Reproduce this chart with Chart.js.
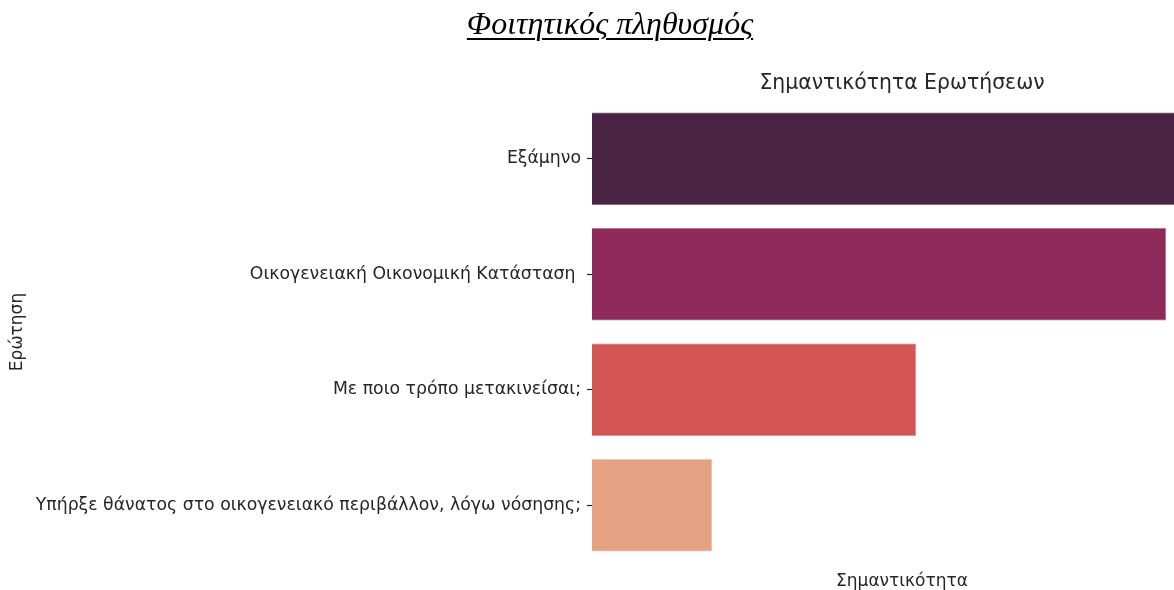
<!DOCTYPE html>
<html>
<head>
<meta charset="utf-8">
<script src="https://cdn.jsdelivr.net/npm/chart.js@4/dist/chart.umd.min.js"></script>
<style>
  html, body { margin: 0; padding: 0; background: #fff; overflow: hidden; }
  #wrap { position: relative; width: 1220px; height: 590px; }
  #heading {
    position: absolute; left: 0; top: 5px; width: 1220px; text-align: center;
    font-family: "Liberation Serif", "Times New Roman", serif; font-style: italic;
    font-size: 32px; color: #000; text-decoration: underline; text-underline-offset: 4px;
    text-decoration-thickness: 2px; z-index: 2;
  }
  canvas { position: absolute; left: 0; top: 0; }
</style>
</head>
<body>
<div id="wrap">
  <div id="heading">Φοιτητικός πληθυσμός</div>
  <canvas id="c" width="1220" height="590"></canvas>
</div>
<script>
// Questions and their importance scores
const questions = [
  "Εξάμηνο",
  "Οικογενειακή Οικονομική Κατάσταση ",
  "Με ποιο τρόπο μετακινείσαι;",
  "Υπήρξε θάνατος στο οικογενειακό περιβάλλον, λόγω νόσησης;"
];
const importance = [0.295, 0.287, 0.162, 0.060];
const barColors = ["#4a2445", "#8f2b5a", "#d35554", "#e4a282"];
const barEdges = ["#7a5a76", "#b06a8b", "#e08a89", "#f0c4ae"];

const textColor = "#262626";
const font = "'DejaVu Sans', sans-serif";

new Chart(document.getElementById("c"), {
  type: "bar",
  data: {
    labels: questions,
    datasets: [{
      data: importance,
      backgroundColor: barColors,
      borderColor: barEdges,
      borderWidth: 0.6,
      barPercentage: 0.8,
      categoryPercentage: 1.0
    }]
  },
  options: {
    indexAxis: "y",
    responsive: false,
    animation: false,
    layout: { padding: { left: 0, top: 0, bottom: 0, right: 8 } },
    plugins: {
      legend: { display: false },
      tooltip: { enabled: false },
      title: {
        display: true,
        fullSize: false,
        text: "Σημαντικότητα Ερωτήσεων",
        color: textColor,
        font: { family: font, size: 20.4, weight: "normal", lineHeight: 1.2 },
        padding: { top: 71, bottom: 5.5 }
      }
    },
    scales: {
      x: {
        min: 0,
        max: 0.31,
        ticks: { display: false },
        grid: { display: false, drawTicks: false },
        border: { display: false },
        title: {
          display: true,
          text: "Σημαντικότητα",
          color: textColor,
          font: { family: font, size: 17, lineHeight: 1 },
          padding: { top: 0, bottom: 0 }
        },
        afterFit: s => { s.height = 27; }
      },
      y: {
        ticks: {
          color: textColor,
          font: { family: font, size: 17.3 },
          padding: 6
        },
        grid: {
          display: true,
          offset: false,
          drawOnChartArea: false,
          drawTicks: true,
          tickLength: 5,
          tickWidth: 1.2,
          tickColor: textColor
        },
        border: { display: false },
        title: {
          display: true,
          text: "Ερώτηση",
          color: textColor,
          font: { family: font, size: 17, lineHeight: 1 },
          padding: { top: 9.5, bottom: 0 }
        },
        afterFit: s => { s.width = 592; }
      }
    }
  }
});
</script>
</body>
</html>
